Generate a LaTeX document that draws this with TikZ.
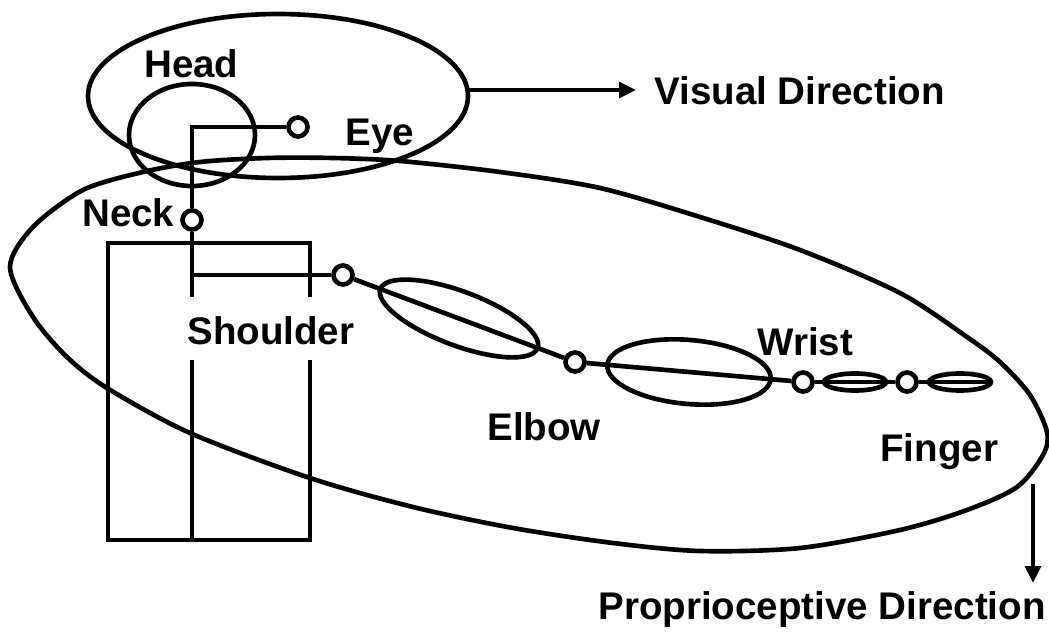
\documentclass[tikz,border=0pt]{standalone}
\usepackage{fontspec}
\setmainfont{Liberation Sans}
\usetikzlibrary{arrows.meta,calc}

\tikzset{
  joint/.style={circle,draw,fill=white,inner sep=0pt,minimum size=13.5pt},
  lbl/.style={font=\fontsize{27.4}{33}\selectfont\bfseries,inner sep=0pt,anchor=base west},
  dirarrow/.style={-{Triangle[length=12pt,width=11pt]}}
}

\begin{document}
\begin{tikzpicture}[x=0.025cm,y=-0.025cm,line width=3.3pt]
\useasboundingbox (0,0) rectangle (1049,637);

% joints of the body chain
\node[joint] (eye) at (298,127) {};
\node[joint] (neck) at (192,220) {};
\node[joint] (shoulder) at (343,275) {};
\node[joint] (elbow) at (575,362) {};
\node[joint] (wrist) at (803,382) {};
\node[joint] (knuckle) at (907,382) {};
\coordinate (tip) at (991,382);
\coordinate (sroot) at (192,275);

% head: visual field and skull
\draw (278,96) ellipse [x radius=190, y radius=82];
\draw (192,135) ellipse [x radius=63, y radius=51];
\draw (neck) |- (eye);

% trunk
\draw (310,297) -- (310,243) -- (108,243) -- (108,540) -- (310,540) -- (310,360);
\draw (neck) -- (192,297);
\draw (192,360) -- (192,540);
\draw (sroot) -- (shoulder);

% arm segments
\draw (shoulder) -- (elbow);
\draw (elbow) -- (wrist);
\draw (wrist) -- (knuckle);
\draw (knuckle) -- (tip);
\coordinate (upper) at ($(shoulder)!0.5!(elbow)$);
\coordinate (fore) at ($(elbow)!0.5!(wrist)$);
\coordinate (finger1) at ($(wrist)!0.5!(knuckle)$);
\draw[rotate around={-20.6:(upper)}] (upper) ellipse [x radius=84, y radius=27];
\draw[rotate around={-5:(fore)}] (fore) ellipse [x radius=82, y radius=32];
\draw (finger1) ellipse [x radius=31, y radius=8.5];
\draw (960,382) ellipse [x radius=31, y radius=8.5];

% proprioceptive field
\draw plot[smooth cycle] coordinates {
  (10,267) (33,227) (83,190) (143,172) (200,162) (267,158) (333,158)
  (400,161) (500,172) (600,188) (700,217) (800,250) (900,293) (967,337)
  (1000,362) (1030,395) (1047,432) (1043,455) (1017,487) (967,510)
  (900,530) (800,548) (700,551) (613,543) (513,528) (413,507) (310,478)
  (190,433) (107,388) (67,357) (33,317)};

% output directions
\coordinate (vbase) at (468,90);
\coordinate (vtip) at (636,90);
\coordinate (pbase) at (1033,484);
\coordinate (ptip) at (1033,583);
\draw[dirarrow] (vbase) -- (vtip);
\draw[dirarrow] (pbase) -- (ptip);

% labels
\node[lbl] (headlbl) at (142,78) {Head};
\node[lbl] (eyelbl) at (343,145) {Eye};
\node[lbl] (necklbl) at (80,226) {Neck};
\node[lbl] (shoulderlbl) at (185,344) {Shoulder};
\node[lbl] (elbowlbl) at (485,440) {Elbow};
\node[lbl] (wristlbl) at (755,355) {Wrist};
\node[lbl] (fingerlbl) at (878,461) {Finger};
\node[lbl] (visuallbl) at (652,104) {Visual Direction};
\node[lbl] (propriolbl) at (596,619) {Proprioceptive Direction};
\end{tikzpicture}
\end{document}
